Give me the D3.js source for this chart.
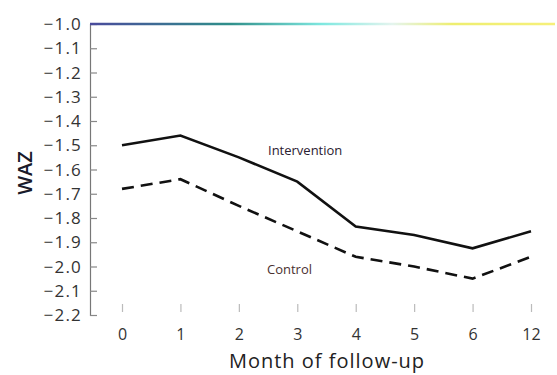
<!DOCTYPE html>
<html>
<head>
<meta charset="utf-8">
<script src="https://d3js.org/d3.v7.min.js"></script>
<style>
  body { margin: 0; background: #fff; }
  text { font-family: "Open Sans", "DejaVu Sans", sans-serif; }
</style>
</head>
<body>
<div id="chart"></div>
<script>

var months = ["0", "1", "2", "3", "4", "5", "6", "12"];
var intervention = [-1.50, -1.46, -1.55, -1.65, -1.835, -1.87, -1.925, -1.855];
var control = [-1.68, -1.64, -1.75, -1.855, -1.96, -2.00, -2.05, -1.96];
var yTicks = [-1.0, -1.1, -1.2, -1.3, -1.4, -1.5, -1.6, -1.7, -1.8, -1.9, -2.0, -2.1, -2.2];

var width = 557, height = 375;

var svg = d3.select("#chart")
  .append("svg")
    .attr("width", width)
    .attr("height", height);

var x = d3.scalePoint()
  .domain(months)
  .range([122, 531]);

var y = d3.scaleLinear()
  .domain([-2.2, -1.0])
  .range([315, 24]);

// y axis, ticks pointing inward
var yAxis = svg.append("g")
  .attr("transform", "translate(90,0)")
  .call(d3.axisRight(y).tickValues(yTicks).tickSize(7).tickFormat(""));
yAxis.select(".domain").attr("stroke", "#777").attr("stroke-width", 1.2);
yAxis.selectAll(".tick line").attr("stroke", "#888").attr("stroke-width", 1.2);

svg.append("g")
  .selectAll("text")
  .data(yTicks)
  .enter()
  .append("text")
    .attr("x", 82)
    .attr("y", function(d) { return y(d) + 6; })
    .attr("text-anchor", "end")
    .style("font-size", "17px")
    .style("letter-spacing", "1.2px")
    .attr("fill", "#333")
    .text(function(d) { return "\u2212" + Math.abs(d).toFixed(1); });

// gradient reference line at -1.0
var grad = svg.append("defs").append("linearGradient")
  .attr("id", "topgrad")
  .attr("gradientUnits", "userSpaceOnUse")
  .attr("x1", 90).attr("x2", 555)
  .attr("y1", 0).attr("y2", 0);
[[0, "#4a4a9c"], [0.3, "#2f8f8a"], [0.5, "#7fe8e0"], [0.65, "#e4f4ee"], [0.78, "#eeee70"], [1, "#f6f07a"]]
  .forEach(function(s) {
    grad.append("stop").attr("offset", s[0]).attr("stop-color", s[1]);
  });
svg.append("line")
  .attr("x1", 90).attr("x2", 555)
  .attr("y1", y(-1.0)).attr("y2", y(-1.0))
  .attr("stroke", "url(#topgrad)")
  .attr("stroke-width", 2.5);

// x ticks (no axis line)
var xAxis = svg.append("g")
  .attr("transform", "translate(0,304)")
  .call(d3.axisBottom(x).tickSize(8).tickPadding(17));
xAxis.select(".domain").remove();
xAxis.selectAll(".tick line").attr("stroke", "#bbb").attr("stroke-width", 1.2);
xAxis.selectAll(".tick text")
  .style("font-size", "16px")
  .style("font-family", "'Open Sans', sans-serif")
  .attr("fill", "#333");

var line = d3.line()
  .x(function(d, i) { return x(months[i]); })
  .y(function(d) { return y(d); });

svg.append("path")
  .datum(intervention)
  .attr("d", line)
  .attr("fill", "none")
  .attr("stroke", "#111")
  .attr("stroke-width", 2.6);

svg.append("path")
  .datum(control)
  .attr("d", line)
  .attr("fill", "none")
  .attr("stroke", "#111")
  .attr("stroke-width", 2.6)
  .attr("stroke-dasharray", "12,7");

svg.append("text")
  .attr("x", 268).attr("y", 155)
  .style("font-size", "13px")
  .attr("fill", "#2a2030")
  .text("Intervention");

svg.append("text")
  .attr("x", 267).attr("y", 274)
  .style("font-size", "13px")
  .attr("fill", "#4a3030")
  .text("Control");

svg.append("text")
  .attr("x", 327).attr("y", 368)
  .attr("text-anchor", "middle")
  .style("font-size", "20px")
  .style("letter-spacing", "1px")
  .attr("fill", "#222")
  .text("Month of follow-up");

svg.append("text")
  .attr("transform", "translate(32,173) rotate(-90)")
  .attr("text-anchor", "middle")
  .style("font-size", "20px")
  .style("font-weight", "600")
  .attr("fill", "#1a1a2a")
  .text("WAZ");

</script>
</body>
</html>
